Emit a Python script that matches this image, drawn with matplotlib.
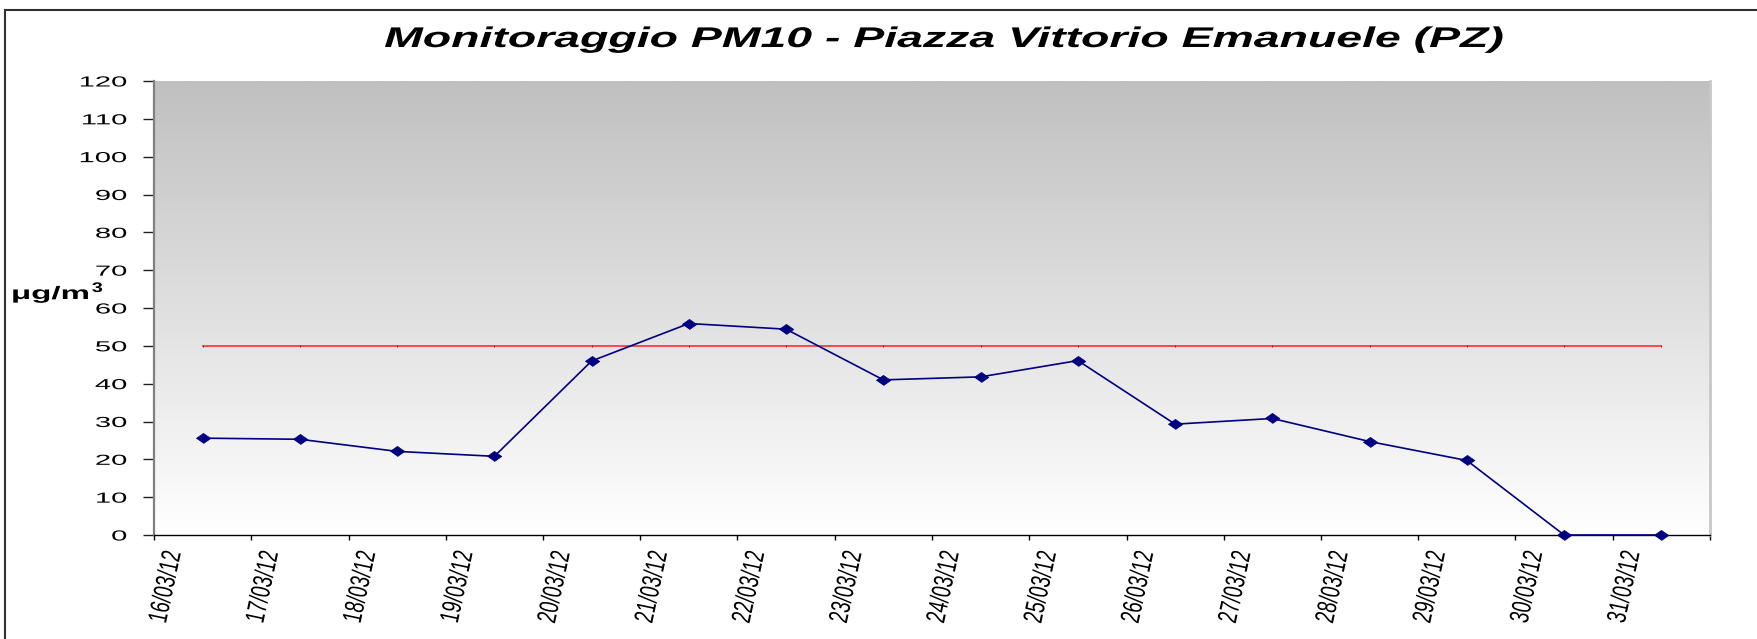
import numpy as np
import matplotlib
matplotlib.use("Agg")
import matplotlib.pyplot as plt
from matplotlib.colors import LinearSegmentedColormap
from matplotlib.patheffects import AbstractPathEffect
from matplotlib.transforms import Affine2D, blended_transform_factory, offset_copy
from matplotlib.lines import Line2D

# ---------------- data ----------------
dates = ["16/03/12", "17/03/12", "18/03/12", "19/03/12", "20/03/12", "21/03/12",
         "22/03/12", "23/03/12", "24/03/12", "25/03/12", "26/03/12", "27/03/12",
         "28/03/12", "29/03/12", "30/03/12", "31/03/12"]
pm10 = [25.6, 25.3, 22.1, 20.8, 46.0, 55.9, 54.4, 41.0, 41.8, 46.1,
        29.3, 30.8, 24.7, 19.7, 0.0, 0.0]
limit = [50] * 16
yticks = [0, 10, 20, 30, 40, 50, 60, 70, 80, 90, 100, 110, 120]
title = "Monitoraggio PM10 - Piazza Vittorio Emanuele (PZ)"
ylabel_main = "\u03bcg/m"
ylabel_sup = "3"

plt.rcParams["font.family"] = ["Liberation Sans", "DejaVu Sans"]


class Stretch(AbstractPathEffect):
    """Scale the text path in its own frame around an anchor."""
    def __init__(self, sx=1.0, sy=1.0, anchor="center"):
        super().__init__()
        self.sx, self.sy, self.anchor = sx, sy, anchor

    def draw_path(self, renderer, gc, tpath, affine, rgbFace=None):
        ext = tpath.get_extents()
        if self.anchor == "left":
            cx = ext.x0
        elif self.anchor == "right":
            cx = ext.x1
        else:
            cx = 0.5 * (ext.x0 + ext.x1)
        cy = 0.5 * (ext.y0 + ext.y1)
        t = Affine2D().translate(-cx, -cy).scale(self.sx, self.sy).translate(cx, cy) + affine
        renderer.draw_path(gc, tpath, t, rgbFace)


W, H = 1758, 639
fig = plt.figure(figsize=(W / 100, H / 100), dpi=100)
renderer = fig.canvas.get_renderer()

L, R, T, B = 154, 1710, 81, 535
ax = fig.add_axes([L / W, 1 - B / H, (R - L) / W, (B - T) / H])

n = len(dates)
x = np.arange(n)

# gradient background
cmap = LinearSegmentedColormap.from_list("bg", ["#c0c0c0", "#ffffff"])
ax.imshow(np.linspace(0, 1, 256).reshape(-1, 1), extent=[-0.5, n - 0.5, 0, 120],
          aspect="auto", cmap=cmap, origin="upper", zorder=0, interpolation="bilinear")

# limit line
ax.plot(x, limit, color="#ff2020", lw=1.1, zorder=2,
        marker="|", markersize=2.0, markeredgecolor="#d00000", markeredgewidth=0.7)

# data
diamond = [(-1, 0), (0, 0.7), (1, 0), (0, -0.7)]
ax.plot(x, pm10, color="#000080", lw=1.2, marker=diamond, markersize=10.5,
        markerfacecolor="#000080", markeredgecolor="#000080", markeredgewidth=0.5,
        zorder=3, clip_on=False)

ax.set_xlim(-0.5, n - 0.5)
ax.set_ylim(0, 120)

# spines
ax.spines["top"].set_visible(False)
ax.spines["left"].set_color("#808080")
ax.spines["left"].set_linewidth(1.6)
ax.spines["right"].set_color("#c8c8c8")
ax.spines["right"].set_linewidth(2.0)
ax.spines["bottom"].set_color("black")
ax.spines["bottom"].set_linewidth(1.0)

# y ticks
ax.set_yticks(yticks)
ax.set_yticklabels([str(v) for v in yticks])
ax.tick_params(axis="y", direction="out", length=8, width=1, color="#202020",
               pad=11.5, labelsize=10.5, labelcolor="black")
for lab in ax.get_yticklabels():
    lab.set_path_effects([Stretch(2.0, 1.0, "right")])

# x ticks at category boundaries
ax.set_xticks(np.arange(-0.5, n, 1.0))
ax.set_xticklabels([])
ax.tick_params(axis="x", direction="out", length=3.6, width=1, color="black")

# x labels (rotated, glyphs widened across the baseline)
trans = blended_transform_factory(ax.transData, ax.transAxes)
trans = offset_copy(trans, fig=fig, x=-29, y=-16, units="dots")
for xi, d in zip(x, dates):
    ax.text(xi, 0, d, transform=trans, rotation=78, rotation_mode="anchor",
            ha="right", va="center", fontsize=13.5, color="black",
            path_effects=[Stretch(1.0, 1.45, "right")], clip_on=False)

# title
t = fig.text(944 / W, 1 - 40 / H, title, ha="center", va="center",
             fontsize=20.5, fontweight="bold", fontstyle="italic")
bb = t.get_window_extent(renderer)
t.set_path_effects([Stretch(1120 / bb.width, 1.0, "center")])

# y label
yl = fig.text(12 / W, 1 - 299 / H, ylabel_main, ha="left", va="baseline",
              fontsize=13, fontweight="bold")
bb = yl.get_window_extent(renderer)
yl.set_path_effects([Stretch(79 / bb.width, 1.0, "left")])
ys = fig.text(92 / W, 1 - 292 / H, ylabel_sup, ha="left", va="baseline",
              fontsize=10, fontweight="bold")
bb = ys.get_window_extent(renderer)
ys.set_path_effects([Stretch(11 / bb.width, 1.0, "left")])

# outer frame (left & top edges visible)
fig.add_artist(Line2D([5 / W, 5 / W], [0, 1 - 10 / H], transform=fig.transFigure,
                      color="#303030", lw=1.5))
fig.add_artist(Line2D([5 / W, 1], [1 - 10 / H, 1 - 10 / H], transform=fig.transFigure,
                      color="#303030", lw=1.5))

fig.savefig("out.png", dpi=100)
